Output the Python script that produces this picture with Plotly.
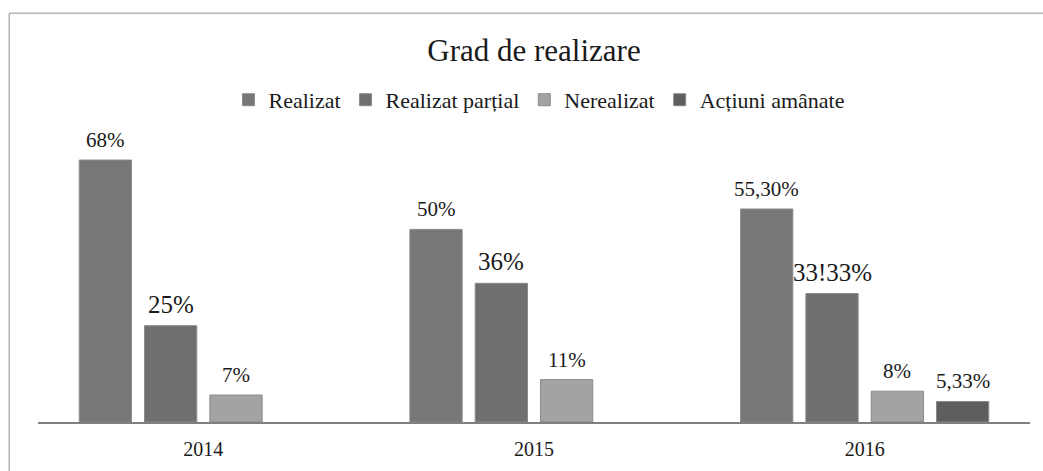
import plotly.graph_objects as go

years = ["2014", "2015", "2016"]
series = ["Realizat", "Realizat parțial", "Nerealizat", "Acțiuni amânate"]
realizat = [68, 50, 55.3]
realizat_partial = [25, 36, 33.33]
nerealizat = [7, 11, 8]
actiuni_amanate = [None, None, 5.33]
labels_realizat = ["68%", "50%", "55,30%"]
labels_partial = ["25%", "36%", "33!33%"]
labels_nerealizat = ["7%", "11%", "8%"]
labels_actiuni = ["", "", "5,33%"]

values = [realizat, realizat_partial, nerealizat, actiuni_amanate]
labels = [labels_realizat, labels_partial, labels_nerealizat, labels_actiuni]
colors = ["#777777", "#6f6f6f", "#a3a3a3", "#5e5e5e"]
label_sizes = [21, 25, 21, 21]

FONT = "Liberation Serif"
BARGAP = 0.21
x_idx = list(range(len(years)))

fig = go.Figure()
for name, vals, col in zip(series, values, colors):
    fig.add_trace(go.Bar(
        x=x_idx, y=vals, name=name,
        marker=dict(color=col, line=dict(color="#8a8a8a", width=1)),
    ))

n = len(series)
slot = (1 - BARGAP) / n
for i, (vals, labs) in enumerate(zip(values, labels)):
    off = -(1 - BARGAP) / 2 + slot * (i + 0.5)
    for xi, v, t in zip(x_idx, vals, labs):
        if v is None:
            continue
        fig.add_annotation(
            x=xi + off, y=v, text=t, showarrow=False,
            xref="x", yref="y", yanchor="bottom", yshift=6,
            font=dict(family=FONT, size=label_sizes[i], color="#1a1a1a"),
        )

# outer frame (partially visible in the reference)
fig.add_shape(type="line", xref="paper", yref="paper",
              x0=-0.029, x1=-0.029, y0=1.40, y1=-0.2,
              line=dict(color="#b5b5b5", width=1.5))
fig.add_shape(type="line", xref="paper", yref="paper",
              x0=-0.029, x1=1.02, y0=1.40, y1=1.40,
              line=dict(color="#b5b5b5", width=1.5))

fig.update_layout(
    width=1043, height=471,
    font=dict(family=FONT, color="#1a1a1a"),
    margin=dict(l=38, r=13, t=130, b=49),
    paper_bgcolor="white", plot_bgcolor="white",
    barmode="group", bargap=BARGAP, bargroupgap=0.2,
    title=dict(text="Grad de realizare", x=0.5, xref="paper",
               y=1 - 50 / 471, yanchor="middle",
               font=dict(family=FONT, size=31, color="#1a1a1a")),
    legend=dict(orientation="h", x=0.505, xanchor="center", xref="paper",
                y=1.103, yanchor="middle",
                font=dict(family=FONT, size=22, color="#1a1a1a"),
                itemwidth=30, traceorder="normal"),
    xaxis=dict(tickmode="array", tickvals=x_idx, ticktext=years,
               range=[-0.5, len(years) - 0.5],
               showline=True, linecolor="#808080", linewidth=2,
               showgrid=False, zeroline=False, ticks="",
               ticklabelstandoff=8,
               tickfont=dict(family=FONT, size=20, color="#1a1a1a")),
    yaxis=dict(range=[0, 75.8], visible=False, showgrid=False),
    showlegend=True,
)

fig.write_html("out.html", config={"displayModeBar": False},
               post_script="document.body.style.margin='0';")
